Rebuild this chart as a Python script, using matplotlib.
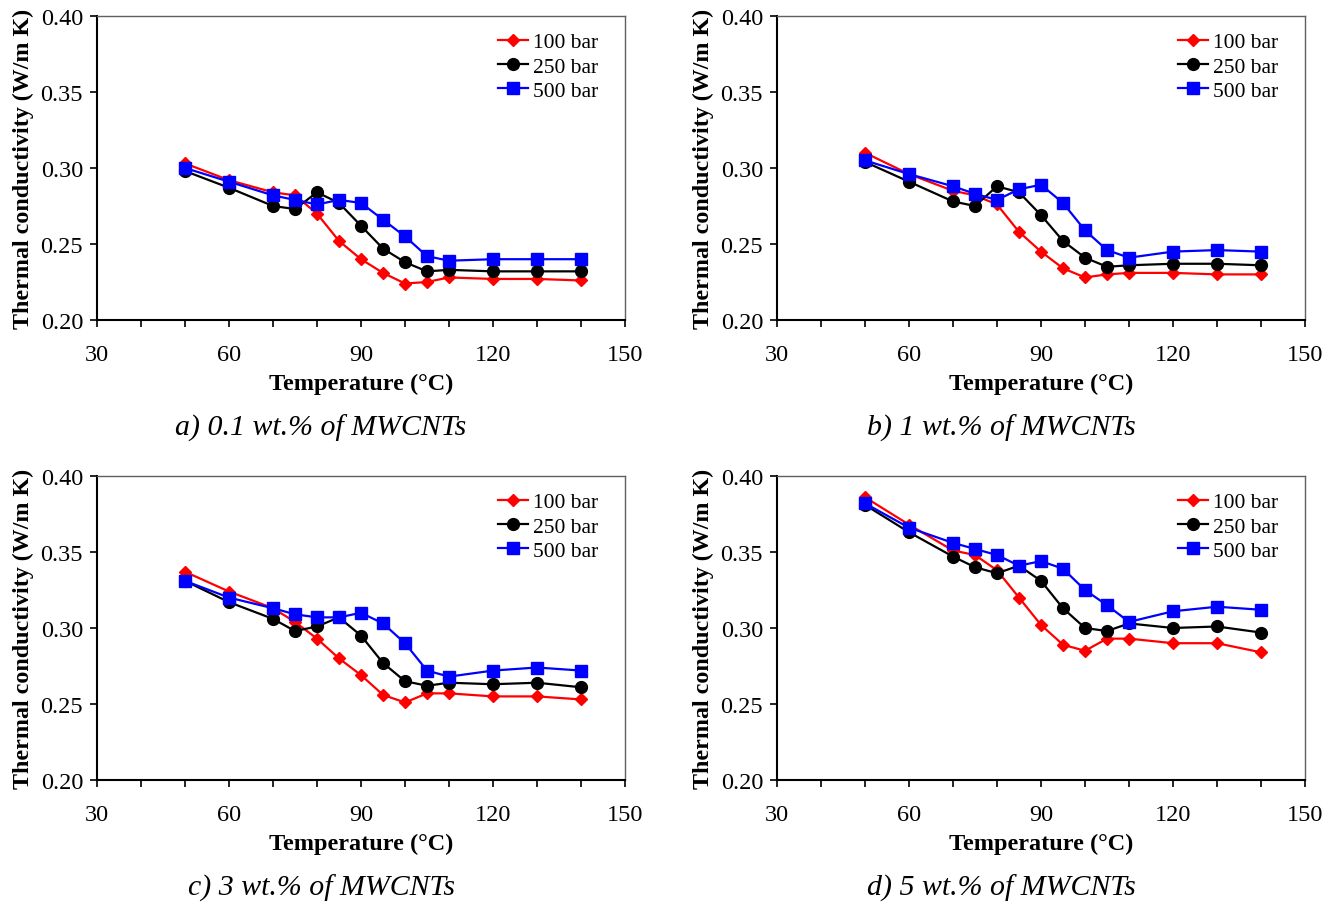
import matplotlib.pyplot as plt
from matplotlib.ticker import MultipleLocator

plt.rcParams["font.family"] = ["Liberation Serif", "DejaVu Serif"]

# Temperature (deg C)
temps = [50, 60, 70, 75, 80, 85, 90, 95, 100, 105, 110, 120, 130, 140]

# Thermal conductivity (W/m K), one list per pressure and loading
k_01_100 = [0.303, 0.292, 0.284, 0.282, 0.270, 0.252, 0.240, 0.231, 0.224, 0.225, 0.228, 0.227, 0.227, 0.226]
k_01_250 = [0.298, 0.287, 0.275, 0.273, 0.284, 0.277, 0.262, 0.247, 0.238, 0.232, 0.233, 0.232, 0.232, 0.232]
k_01_500 = [0.300, 0.291, 0.282, 0.279, 0.276, 0.279, 0.277, 0.266, 0.255, 0.242, 0.239, 0.240, 0.240, 0.240]

k_1_100 = [0.310, 0.296, 0.285, 0.282, 0.276, 0.258, 0.245, 0.234, 0.228, 0.230, 0.231, 0.231, 0.230, 0.230]
k_1_250 = [0.304, 0.291, 0.278, 0.275, 0.288, 0.284, 0.269, 0.252, 0.241, 0.235, 0.236, 0.237, 0.237, 0.236]
k_1_500 = [0.305, 0.296, 0.288, 0.283, 0.279, 0.286, 0.289, 0.277, 0.259, 0.246, 0.241, 0.245, 0.246, 0.245]

k_3_100 = [0.337, 0.324, 0.313, 0.304, 0.293, 0.280, 0.269, 0.256, 0.251, 0.257, 0.257, 0.255, 0.255, 0.253]
k_3_250 = [0.331, 0.317, 0.306, 0.298, 0.301, 0.307, 0.295, 0.277, 0.265, 0.262, 0.264, 0.263, 0.264, 0.261]
k_3_500 = [0.331, 0.320, 0.313, 0.309, 0.307, 0.307, 0.310, 0.303, 0.290, 0.272, 0.268, 0.272, 0.274, 0.272]

k_5_100 = [0.386, 0.368, 0.351, 0.348, 0.338, 0.320, 0.302, 0.289, 0.285, 0.293, 0.293, 0.290, 0.290, 0.284]
k_5_250 = [0.381, 0.363, 0.347, 0.340, 0.336, 0.341, 0.331, 0.313, 0.300, 0.298, 0.303, 0.300, 0.301, 0.297]
k_5_500 = [0.382, 0.366, 0.356, 0.352, 0.348, 0.341, 0.344, 0.339, 0.325, 0.315, 0.304, 0.311, 0.314, 0.312]

panels = [
    ("a) 0.1 wt.% of MWCNTs", k_01_100, k_01_250, k_01_500),
    ("b) 1 wt.% of MWCNTs", k_1_100, k_1_250, k_1_500),
    ("c) 3 wt.% of MWCNTs", k_3_100, k_3_250, k_3_500),
    ("d) 5 wt.% of MWCNTs", k_5_100, k_5_250, k_5_500),
]
labels = ["100 bar", "250 bar", "500 bar"]
colors = ["#ff0000", "#000000", "#0000ff"]
markers = ["D", "o", "s"]
msizes = [6, 8.5, 8]

fig = plt.figure(figsize=(13.36, 9.03), dpi=100)
W, H = 1336, 903
boxes = [(97, 17), (777, 17), (97, 477), (777, 477)]

for (title, *series), (x0, y0) in zip(panels, boxes):
    ax = fig.add_axes([x0 / W, 1 - (y0 + 304) / H, 528 / W, 304 / H])
    for ys, lab, c, m, ms in zip(series, labels, colors, markers, msizes):
        ax.plot(temps, ys, color=c, marker=m, markersize=ms, lw=1.6, label=lab)
    ax.set_xlim(30, 150)
    ax.set_ylim(0.20, 0.40)
    ax.xaxis.set_major_locator(MultipleLocator(30))
    ax.xaxis.set_minor_locator(MultipleLocator(10))
    ax.yaxis.set_major_locator(MultipleLocator(0.05))
    ax.yaxis.set_major_formatter(plt.FormatStrFormatter("%.2f"))
    ax.tick_params(axis="y", direction="out", length=5, width=1.2, labelsize=17.5, pad=5)
    ax.tick_params(axis="x", which="both", direction="out", length=5, width=1.2,
                   labelsize=17.5, pad=12)
    for s in ("top", "right"):
        ax.spines[s].set_color("#606060")
        ax.spines[s].set_linewidth(1.0)
    for s in ("left", "bottom"):
        ax.spines[s].set_linewidth(1.5)
    ax.set_xlabel("Temperature (°C)", fontsize=17.5, fontweight="bold", labelpad=6)
    ax.set_ylabel("Thermal conductivity (W/m K)", fontsize=17.3, fontweight="bold", labelpad=5)
    ax.legend(loc="upper right", frameon=False, fontsize=15.5, handlelength=1.4,
              handletextpad=0.25, labelspacing=0.2, borderaxespad=0.35,
              bbox_to_anchor=(0.98, 1.0))
    fig.text((x0 + 224) / W, 1 - (y0 + 411) / H, title, fontsize=21.5,
             fontstyle="italic", ha="center", va="center")

fig.savefig("out.png", dpi=100)
